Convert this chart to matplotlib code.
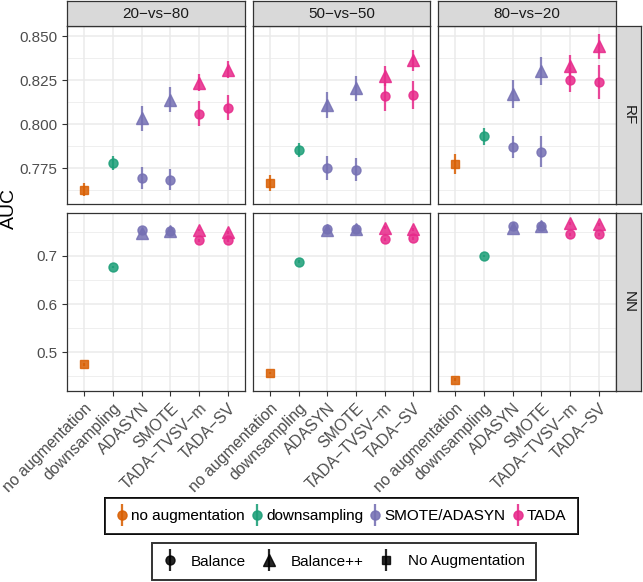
import matplotlib
matplotlib.use('Agg')
import matplotlib.pyplot as plt
from matplotlib.lines import Line2D

plt.rcParams['font.family'] = ['Liberation Sans', 'DejaVu Sans']

categories = ['no augmentation', 'downsampling', 'ADASYN', 'SMOTE', 'TADA−TVSV−m', 'TADA−SV']
cat_group = ['no augmentation', 'downsampling', 'SMOTE/ADASYN', 'SMOTE/ADASYN', 'TADA', 'TADA']
splits = ['20−vs−80', '50−vs−50', '80−vs−20']
models = ['RF', 'NN']

# no augmentation (square), one value per split
rf_noaug = [0.7628, 0.7666, 0.7776]
rf_noaug_err = [0.0037, 0.0045, 0.0057]
nn_noaug = [0.475, 0.457, 0.443]
nn_noaug_err = [0.003, 0.003, 0.003]

# Balance (circle): downsampling, ADASYN, SMOTE, TADA-TVSV-m, TADA-SV
rf_balance = [[0.7780, 0.7695, 0.7685, 0.8060, 0.8094],
              [0.7853, 0.7753, 0.7743, 0.8158, 0.8166],
              [0.7931, 0.7870, 0.7845, 0.8251, 0.8241]]
rf_balance_err = [[0.0040, 0.0060, 0.0060, 0.0070, 0.0070],
                  [0.0040, 0.0068, 0.0065, 0.0080, 0.0077],
                  [0.0050, 0.0064, 0.0087, 0.0068, 0.0095]]
nn_balance = [[0.677, 0.754, 0.752, 0.733, 0.733],
              [0.688, 0.757, 0.756, 0.735, 0.737],
              [0.700, 0.762, 0.762, 0.745, 0.745]]
nn_balance_err = [[0.003, 0.003, 0.003, 0.003, 0.003],
                  [0.003, 0.003, 0.003, 0.003, 0.003],
                  [0.003, 0.003, 0.003, 0.003, 0.003]]

# Balance++ (triangle): ADASYN, SMOTE, TADA-TVSV-m, TADA-SV
rf_bpp = [[0.8034, 0.8139, 0.8236, 0.8310],
          [0.8109, 0.8203, 0.8276, 0.8363],
          [0.8172, 0.8300, 0.8332, 0.8442]]
rf_bpp_err = [[0.0070, 0.0070, 0.0050, 0.0050],
              [0.0075, 0.0070, 0.0057, 0.0060],
              [0.0080, 0.0080, 0.0060, 0.0072]]
nn_bpp = [[0.747, 0.752, 0.754, 0.749],
          [0.754, 0.756, 0.759, 0.755],
          [0.759, 0.762, 0.768, 0.766]]
nn_bpp_err = [[0.003, 0.003, 0.003, 0.003],
              [0.003, 0.003, 0.003, 0.003],
              [0.003, 0.003, 0.003, 0.003]]

palette = {'no augmentation': '#D95F02', 'downsampling': '#1B9E77',
           'SMOTE/ADASYN': '#7570B3', 'TADA': '#E7298A'}
ALPHA = 0.85

W, H = 643, 582
fig = plt.figure(figsize=(W / 100, H / 100), dpi=100)

def px_axes(x0, y0, x1, y1):
    return fig.add_axes([x0 / W, 1 - y1 / H, (x1 - x0) / W, (y1 - y0) / H])

col_x = [(67, 245), (252.7, 430.5), (438.3, 616)]
row_y = [(26, 204), (213.3, 390.7)]
ylims = [(0.7548, 0.8557), (0.4203, 0.7886)]
yticks = [[0.775, 0.800, 0.825, 0.850], [0.5, 0.6, 0.7]]
yminor = [[0.7625, 0.7875, 0.8125, 0.8375], [0.45, 0.55, 0.65, 0.75]]
ytlabels = [['0.775', '0.800', '0.825', '0.850'], ['0.5', '0.6', '0.7']]

data = {
    'RF': (rf_noaug, rf_noaug_err, rf_balance, rf_balance_err, rf_bpp, rf_bpp_err),
    'NN': (nn_noaug, nn_noaug_err, nn_balance, nn_balance_err, nn_bpp, nn_bpp_err),
}

dark = '#333333'
for r, model in enumerate(models):
    noaug, noaug_err, bal, bal_err, bpp, bpp_err = data[model]
    for c, split in enumerate(splits):
        ax = px_axes(col_x[c][0], row_y[r][0], col_x[c][1], row_y[r][1])
        ax.set_xlim(-0.6, 5.6)
        ax.set_ylim(*ylims[r])
        ax.set_xticks(range(len(categories)))
        ax.set_yticks(yticks[r])
        ax.set_yticks(yminor[r], minor=True)
        ax.set_axisbelow(True)
        ax.grid(which='major', color='#EBEBEB', lw=1.1)
        ax.grid(which='minor', axis='y', color='#EBEBEB', lw=0.55)
        for s in ax.spines.values():
            s.set_color(dark)
            s.set_linewidth(0.9)
        ax.tick_params(which='minor', left=False)
        ax.tick_params(axis='both', length=3.5, color=dark, labelcolor='#4D4D4D',
                       labelsize=11, width=0.8)
        if c == 0:
            ax.set_yticklabels(ytlabels[r])
        else:
            ax.tick_params(axis='y', left=False, labelleft=False)
        if r == 1:
            ax.set_xticklabels(categories, rotation=45, ha='right', va='top',
                               rotation_mode='anchor', fontsize=11.4)
        else:
            ax.tick_params(axis='x', bottom=False, labelbottom=False)

        col = palette[cat_group[0]]
        ax.errorbar(0, noaug[c], yerr=noaug_err[c], fmt='s', color=col, ms=6.3,
                    elinewidth=1.6, capsize=0, alpha=ALPHA)
        for k in range(4):
            col = palette[cat_group[k + 2]]
            ax.errorbar(k + 2, bpp[c][k], yerr=bpp_err[c][k], fmt='^', color=col,
                        ms=8.5, elinewidth=1.6, capsize=0, alpha=ALPHA)
        for k in range(5):
            col = palette[cat_group[k + 1]]
            ax.errorbar(k + 1, bal[c][k], yerr=bal_err[c][k], fmt='o', color=col,
                        ms=6.5, elinewidth=1.6, capsize=0, alpha=ALPHA)

        if r == 0:
            sax = px_axes(col_x[c][0], 1, col_x[c][1], 26)
            sax.set_facecolor('#D9D9D9')
            sax.set_xticks([]); sax.set_yticks([])
            for s in sax.spines.values():
                s.set_color(dark); s.set_linewidth(0.9)
            sax.text(0.5, 0.5, split, ha='center', va='center', fontsize=11,
                     color='#1A1A1A', transform=sax.transAxes)
        if c == 2:
            sax = px_axes(616, row_y[r][0], 641, row_y[r][1])
            sax.set_facecolor('#D9D9D9')
            sax.set_xticks([]); sax.set_yticks([])
            for s in sax.spines.values():
                s.set_color(dark); s.set_linewidth(0.9)
            sax.text(0.5, 0.5, model, ha='center', va='center', fontsize=11,
                     color='#1A1A1A', rotation=-90, transform=sax.transAxes)

fig.text(9 / W, 1 - 208 / H, 'AUC', rotation=90, ha='center', va='center',
         fontsize=14, color='black')

def key(marker, color, ms):
    pt = Line2D([], [], ls='none', marker=marker, color=color, ms=ms, alpha=ALPHA)
    bar = Line2D([], [], ls='none', marker='|', color=color, ms=16, mew=1.6, alpha=ALPHA)
    return (bar, pt)

groups = ['no augmentation', 'downsampling', 'SMOTE/ADASYN', 'TADA']
h1 = [key('o', palette[g], 6.5) for g in groups]
leg1 = fig.legend(h1, groups, loc='center', bbox_to_anchor=(341.5 / W, 1 - 516 / H),
                  ncol=4, frameon=True, fancybox=False, edgecolor='black',
                  fontsize=11, handlelength=0.7, handletextpad=0.25,
                  columnspacing=0.45, borderpad=0.75)
leg1.get_frame().set_linewidth(1.4)

shapes = ['Balance', 'Balance++', 'No Augmentation']
h2 = [key('o', 'black', 6.5), key('^', 'black', 8.5), key('s', 'black', 6.3)]
leg2 = fig.legend(h2, shapes, loc='center', bbox_to_anchor=(344 / W, 1 - 561.5 / H),
                  ncol=3, frameon=True, fancybox=False, edgecolor='black',
                  fontsize=11, handlelength=0.8, handletextpad=1.0,
                  columnspacing=1.1, borderpad=0.75)
leg2.get_frame().set_linewidth(1.4)
fig.add_artist(leg1)

fig.savefig('out.png', dpi=100)
